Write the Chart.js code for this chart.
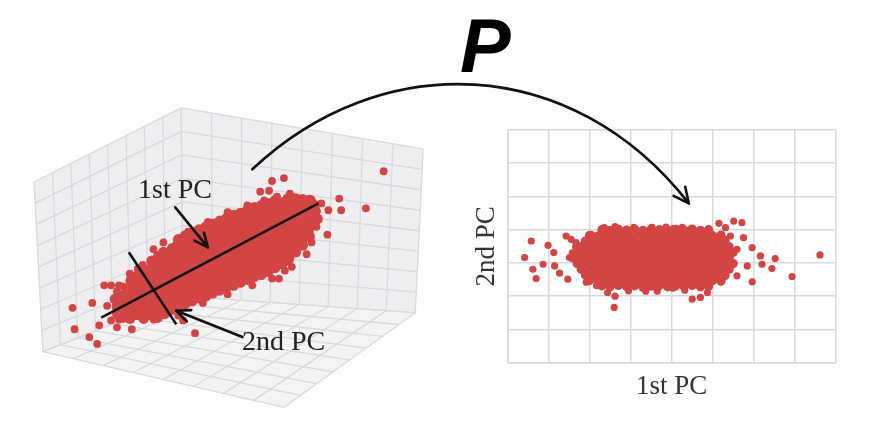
<!DOCTYPE html>
<html>
<head>
<meta charset="utf-8">
<script src="https://cdn.jsdelivr.net/npm/chart.js@4.4.1/dist/chart.umd.min.js"></script>
<style>
  body { margin: 0; background: #fff; }
  #wrap { position: relative; width: 874px; height: 440px; overflow: hidden; }
  .box { position: absolute; }
  .lbl { position: absolute; font-family: 'Liberation Serif', serif; font-size: 28px; line-height: 28px; color: #222; white-space: nowrap; }
  #pLabel { position: absolute; left: 460px; top: 8px; font-family: 'Liberation Sans', sans-serif; font-style: italic; font-weight: bold; font-size: 76px; line-height: 76px; color: #000; }
</style>
</head>
<body>
<div id="wrap">
  <div class="box" style="left:460px;top:118px;width:400px;height:300px"><canvas id="pcChart"></canvas></div>
  <div class="box" style="left:0;top:0;width:874px;height:440px"><canvas id="viewChart"></canvas></div>
  <div class="lbl" style="left:138px;top:175px">1st PC</div>
  <div class="lbl" style="left:242px;top:327px">2nd PC</div>
  <div id="pLabel">P</div>
</div>
<script>
// right panel: the same cloud in principal-component coordinates
const pcAxisTitles = ['1st PC', '2nd PC'];
const pcRangeX = [0, 8];
const pcRangeY = [0, 7];

// loose points around the edge of the projected cloud
const pcLoose = [
    [0.42,3.16],[0.58,3.66],[0.62,2.81],[0.70,2.53],[0.87,2.96],[0.99,3.53],[1.13,3.31],[1.15,2.91],
    [1.27,2.69],[1.43,3.81],[1.47,2.51],[1.55,3.71],[1.51,3.16],[1.67,3.61],[1.92,2.42],[2.17,2.32],
    [2.44,2.11],[2.60,1.66],[2.62,2.00],[3.37,2.15],[3.65,2.15],[4.03,2.24],[4.50,1.91],[4.70,1.96],
    [4.87,2.11],[5.08,2.60],[5.15,4.19],[5.31,4.06],[5.51,4.26],[5.71,4.21],[5.75,3.76],[5.96,3.46],
    [5.96,2.43],[6.16,3.21],[6.20,2.96],[6.44,2.83],[6.52,3.13],[6.93,2.59],[7.61,3.24],[5.59,2.61],
    [5.84,2.91],[5.59,3.41],[5.43,3.81],[2.04,3.86],[2.36,4.06],[3.08,4.07],[3.52,4.07],[4.04,4.03],
    [4.45,4.00],[1.58,3.30],[1.66,3.48],[2.62,4.09],[3.86,4.08],[4.26,4.07],[2.95,2.16],[4.32,2.18]
];

// dense core of the projected cloud
const pcCore = [
    [2.30,2.31],[2.50,2.28],[2.70,2.32],[2.90,2.29],[3.10,2.31],[3.30,2.27],[3.50,2.30],[3.70,2.32],
    [3.90,2.28],[4.10,2.31],[4.30,2.29],[4.50,2.32],[4.70,2.28],[4.90,2.30],
    [2.00,2.47],[2.20,2.49],[2.40,2.45],[2.60,2.48],[2.80,2.46],[3.00,2.49],[3.20,2.45],[3.40,2.48],
    [3.60,2.47],[3.80,2.45],[4.00,2.49],[4.20,2.46],[4.40,2.48],[4.60,2.45],[4.80,2.49],[5.00,2.47],[5.20,2.45],
    [1.90,2.64],[2.10,2.62],[2.30,2.66],[2.50,2.63],[2.70,2.65],[2.90,2.62],[3.10,2.66],[3.30,2.64],
    [3.50,2.62],[3.70,2.65],[3.90,2.63],[4.10,2.66],[4.30,2.62],[4.50,2.64],[4.70,2.66],[4.90,2.63],
    [5.10,2.65],[5.30,2.62],
    [1.80,2.81],[2.00,2.79],[2.20,2.83],[2.40,2.80],[2.60,2.82],[2.80,2.79],[3.00,2.83],[3.20,2.81],
    [3.40,2.79],[3.60,2.82],[3.80,2.80],[4.00,2.83],[4.20,2.79],[4.40,2.81],[4.60,2.83],[4.80,2.80],
    [5.00,2.82],[5.20,2.79],[5.40,2.81],
    [1.70,2.98],[1.90,3.00],[2.10,2.96],[2.30,2.99],[2.50,2.97],[2.70,3.00],[2.90,2.96],[3.10,2.98],
    [3.30,3.00],[3.50,2.97],[3.70,2.99],[3.90,2.96],[4.10,3.00],[4.30,2.98],[4.50,2.96],[4.70,2.99],
    [4.90,2.97],[5.10,3.00],[5.30,2.96],[5.50,2.98],
    [1.60,3.15],[1.80,3.13],[2.00,3.17],[2.20,3.14],[2.40,3.16],[2.60,3.13],[2.80,3.17],[3.00,3.15],
    [3.20,3.13],[3.40,3.16],[3.60,3.14],[3.80,3.17],[4.00,3.13],[4.20,3.15],[4.40,3.17],[4.60,3.14],
    [4.80,3.16],[5.00,3.13],[5.20,3.17],[5.40,3.15],
    [1.70,3.32],[1.90,3.34],[2.10,3.30],[2.30,3.33],[2.50,3.31],[2.70,3.34],[2.90,3.30],[3.10,3.32],
    [3.30,3.34],[3.50,3.31],[3.70,3.33],[3.90,3.30],[4.10,3.34],[4.30,3.32],[4.50,3.30],[4.70,3.33],
    [4.90,3.31],[5.10,3.34],[5.30,3.30],[5.50,3.32],
    [1.80,3.49],[2.00,3.47],[2.20,3.51],[2.40,3.48],[2.60,3.50],[2.80,3.47],[3.00,3.51],[3.20,3.49],
    [3.40,3.47],[3.60,3.50],[3.80,3.48],[4.00,3.51],[4.20,3.47],[4.40,3.49],[4.60,3.51],[4.80,3.48],
    [5.00,3.50],[5.20,3.47],[5.40,3.49],
    [1.90,3.66],[2.10,3.68],[2.30,3.64],[2.50,3.67],[2.70,3.65],[2.90,3.68],[3.10,3.64],[3.30,3.66],
    [3.50,3.68],[3.70,3.65],[3.90,3.67],[4.10,3.64],[4.30,3.68],[4.50,3.66],[4.70,3.64],[4.90,3.67],
    [5.10,3.65],[5.30,3.68],
    [2.00,3.83],[2.20,3.81],[2.40,3.85],[2.60,3.82],[2.80,3.84],[3.00,3.81],[3.20,3.85],[3.40,3.83],
    [3.60,3.81],[3.80,3.84],[4.00,3.82],[4.20,3.85],[4.40,3.81],[4.60,3.83],[4.80,3.85],[5.00,3.82],[5.20,3.84],
    [2.30,4.00],[2.50,3.98],[2.70,4.02],[2.90,3.99],[3.10,4.01],[3.30,3.98],[3.50,4.02],[3.70,4.00],
    [3.90,3.98],[4.10,4.01],[4.30,3.99],[4.50,4.02],[4.70,3.98],[4.90,4.00]
];

// left panel: the raw cloud as seen in the 3-D view (projected view units)
const viewRangeX = [0, 87.4];
const viewRangeY = [0, 44];

const viewLoose = [
    [6.8,13.0],[7.0,10.8],[8.5,10.0],[9.3,9.3],[8.8,13.5],[9.5,11.2],[10.0,15.3],[10.7,15.3],
    [11.5,15.3],[10.3,13.2],[10.7,11.7],[11.3,11.0],[11.5,11.8],[12.7,11.8],[12.8,10.8],[19.2,10.4],
    [18.0,11.7],[38.3,27.0],[36.5,23.2],[33.8,24.2],[34.0,23.0],[32.6,20.5],[32.7,23.0],[32.0,23.7],
    [28.2,26.3],[27.0,26.0],[25.8,24.9],[26.7,25.0],[28.8,24.7],[29.5,24.3],[30.8,24.2],[31.0,21.8],
    [30.8,20.8],[31.0,19.7],[28.3,16.8],[27.7,16.0],[28.7,17.7],
    [11.2,12.3],[11.3,14.7],[11.9,15.2],[12.6,16.5],[13.4,17.0],[13.9,17.4],[31.5,21.3],[31.5,23.6],
    // ragged upper and lower edges of the band
    [15.0,19.0],[16.0,19.7],[18.5,20.8],[20.5,21.8],[22.5,22.8],[24.5,23.5],[26.2,24.0],[27.5,24.4],
    [15.0,11.8],[17.5,12.2],[20.0,13.5],[22.5,14.4],[25.0,15.3],[27.0,16.0],[29.0,17.2],[30.5,18.5]
];

const viewCore = [
    [11.3,13.1],[11.1,13.9],
    [11.9,12.0],[12.0,12.8],[11.8,13.5],[12.0,14.3],
    [12.6,11.9],[12.5,12.7],[12.7,13.4],[12.6,14.2],[12.5,15.0],[12.7,15.8],
    [13.3,12.3],[13.4,13.1],[13.2,13.8],[13.4,14.6],[13.3,15.4],[13.2,16.2],
    [14.0,11.9],[13.9,12.7],[14.1,13.5],[14.0,14.3],[13.9,15.0],[14.1,15.8],[14.0,16.6],
    [14.7,12.3],[14.8,13.1],[14.6,13.9],[14.7,14.7],[14.8,15.4],[14.6,16.2],[14.7,17.0],[14.8,17.8],
    [15.4,12.0],[15.3,12.8],[15.5,13.5],[15.4,14.3],[15.3,15.1],[15.5,15.9],[15.4,16.7],[15.3,17.5],[15.5,18.3],
    [16.1,12.4],[16.2,13.2],[16.0,14.0],[16.1,14.8],[16.2,15.5],[16.0,16.3],[16.1,17.1],[16.2,17.9],[16.0,18.7],
    [16.8,12.8],[16.7,13.6],[16.9,14.4],[16.8,15.2],[16.7,16.0],[16.9,16.7],[16.8,17.5],[16.7,18.3],[16.9,19.1],
    [17.5,13.1],[17.6,13.9],[17.4,14.7],[17.5,15.5],[17.6,16.3],[17.4,17.1],[17.5,17.9],[17.6,18.7],[17.4,19.4],[17.5,20.0],
    [18.2,13.4],[18.1,14.2],[18.3,15.0],[18.2,15.8],[18.1,16.6],[18.3,17.4],[18.2,18.2],[18.1,19.0],[18.3,19.7],[18.2,20.4],
    [18.9,13.7],[19.0,14.5],[18.8,15.3],[18.9,16.1],[19.0,16.9],[18.8,17.7],[18.9,18.5],[19.0,19.2],[18.8,20.0],[18.9,20.7],
    [19.6,14.0],[19.5,14.8],[19.7,15.6],[19.6,16.4],[19.5,17.2],[19.7,18.0],[19.6,18.8],[19.5,19.6],[19.7,20.4],[19.6,21.0],
    [20.3,14.2],[20.4,15.0],[20.2,15.8],[20.3,16.6],[20.4,17.4],[20.2,18.2],[20.3,19.0],[20.4,19.8],[20.2,20.6],[20.3,21.3],
    [21.0,14.5],[20.9,15.3],[21.1,16.1],[21.0,16.9],[20.9,17.7],[21.1,18.5],[21.0,19.3],[20.9,20.1],[21.1,20.9],[21.0,21.6],
    [21.7,14.8],[21.8,15.6],[21.6,16.4],[21.7,17.2],[21.8,18.0],[21.6,18.8],[21.7,19.6],[21.8,20.4],[21.6,21.2],[21.7,21.9],
    [22.4,15.1],[22.3,15.9],[22.5,16.7],[22.4,17.5],[22.3,18.3],[22.5,19.1],[22.4,19.9],[22.3,20.7],[22.5,21.5],[22.4,22.2],
    [23.1,15.3],[23.2,16.1],[23.0,16.9],[23.1,17.7],[23.2,18.5],[23.0,19.3],[23.1,20.1],[23.2,20.9],[23.0,21.7],[23.1,22.5],
    [23.8,15.6],[23.7,16.4],[23.9,17.2],[23.8,18.0],[23.7,18.8],[23.9,19.6],[23.8,20.4],[23.7,21.2],[23.9,22.0],[23.8,22.7],
    [24.5,15.9],[24.6,16.7],[24.4,17.5],[24.5,18.3],[24.6,19.1],[24.4,19.9],[24.5,20.7],[24.6,21.5],[24.4,22.3],[24.5,23.0],
    [25.2,16.2],[25.1,17.0],[25.3,17.8],[25.2,18.6],[25.1,19.4],[25.3,20.2],[25.2,21.0],[25.1,21.8],[25.3,22.6],[25.2,23.3],
    [25.9,16.4],[26.0,17.2],[25.8,18.0],[25.9,18.8],[26.0,19.6],[25.8,20.4],[25.9,21.2],[26.0,22.0],[25.8,22.8],[25.9,23.5],
    [26.6,16.7],[26.5,17.5],[26.7,18.3],[26.6,19.1],[26.5,19.9],[26.7,20.7],[26.6,21.5],[26.5,22.3],[26.7,23.1],[26.6,23.7],
    [27.3,17.1],[27.4,17.9],[27.2,18.7],[27.3,19.5],[27.4,20.3],[27.2,21.1],[27.3,21.9],[27.4,22.7],[27.2,23.5],[27.3,24.0],
    [28.0,17.5],[27.9,18.3],[28.1,19.1],[28.0,19.9],[27.9,20.7],[28.1,21.5],[28.0,22.3],[27.9,23.1],[28.1,23.8],
    [28.7,18.0],[28.8,18.8],[28.6,19.6],[28.7,20.4],[28.8,21.2],[28.6,22.0],[28.7,22.8],[28.8,23.6],[28.6,24.2],
    [29.4,18.7],[29.3,19.5],[29.5,20.3],[29.4,21.1],[29.3,21.9],[29.5,22.7],[29.4,23.5],[29.3,24.2],
    [30.1,19.4],[30.2,20.2],[30.0,21.0],[30.1,21.8],[30.2,22.6],[30.0,23.4],[30.1,24.1],
    [30.8,20.3],[30.7,21.1],[30.9,21.9],[30.8,22.7],[30.7,23.5],[30.9,24.0],
    [31.6,22.1],[31.4,22.9]
];

// the two principal directions drawn through the cloud
const pc1Line = [[9.7,12.0],[31.7,23.7]];
const pc2Line = [[12.5,18.7],[17.3,11.3]];

const RED = '#d24545';
const GRID = '#d9d9dd';

const toXY = arr => arr.map(p => ({ x: p[0], y: p[1] }));

// ---------- right chart ----------
new Chart(document.getElementById('pcChart'), {
    type: 'scatter',
    data: {
        datasets: [
            { data: toXY(pcLoose), backgroundColor: RED, borderWidth: 0, pointRadius: 3.6 },
            { data: toXY(pcCore), backgroundColor: RED, borderWidth: 0, pointRadius: 4.6 }
        ]
    },
    options: {
        responsive: true,
        maintainAspectRatio: false,
        animation: false,
        events: [],
        layout: { padding: { left: 7, top: 12, right: 24, bottom: 11 } },
        plugins: { legend: { display: false }, tooltip: { enabled: false } },
        scales: {
            x: {
                min: pcRangeX[0], max: pcRangeX[1],
                ticks: { stepSize: 1, display: false },
                grid: { color: GRID, lineWidth: 1.5, drawTicks: false },
                border: { color: GRID, width: 1.5 },
                title: {
                    display: true, text: pcAxisTitles[0], color: '#333',
                    font: { family: 'Liberation Serif', size: 27 },
                    padding: { top: 8, bottom: 4 }
                }
            },
            y: {
                min: pcRangeY[0], max: pcRangeY[1],
                ticks: { stepSize: 1, display: false },
                grid: { color: GRID, lineWidth: 1.5, drawTicks: false },
                border: { color: GRID, width: 1.5 },
                title: {
                    display: true, text: pcAxisTitles[1], color: '#333',
                    font: { family: 'Liberation Serif', size: 27 },
                    padding: { top: 4, bottom: 4 }
                }
            }
        }
    }
});

// ---------- left chart (3-D view) ----------
// corners of the plotting box in view units
const boxCorners = {
    B: [18.0, 14.2], T: [17.8, 33.5], L: [3.8, 8.5], LT: [2.9, 25.9],
    R: [41.5, 12.5], RT: [42.3, 29.3], F: [28.2, 2.8]
};
const boxDiv = 8;

function px(chart, p) {
    return [chart.scales.x.getPixelForValue(p[0]), chart.scales.y.getPixelForValue(p[1])];
}

function lerpQuad(q, u, v) {
    // q = [p00, p10, p01, p11] in pixels
    const a = [q[0][0] + (q[1][0] - q[0][0]) * u, q[0][1] + (q[1][1] - q[0][1]) * u];
    const b = [q[2][0] + (q[3][0] - q[2][0]) * u, q[2][1] + (q[3][1] - q[2][1]) * u];
    return [a[0] + (b[0] - a[0]) * v, a[1] + (b[1] - a[1]) * v];
}

function drawFace(ctx, q, fill) {
    ctx.beginPath();
    ctx.moveTo(q[0][0], q[0][1]);
    ctx.lineTo(q[1][0], q[1][1]);
    ctx.lineTo(q[3][0], q[3][1]);
    ctx.lineTo(q[2][0], q[2][1]);
    ctx.closePath();
    ctx.fillStyle = fill;
    ctx.fill();
    ctx.strokeStyle = GRID;
    ctx.lineWidth = 1.3;
    for (let i = 0; i <= boxDiv; i++) {
        const t = i / boxDiv;
        let s = lerpQuad(q, t, 0), e = lerpQuad(q, t, 1);
        ctx.beginPath(); ctx.moveTo(s[0], s[1]); ctx.lineTo(e[0], e[1]); ctx.stroke();
        s = lerpQuad(q, 0, t); e = lerpQuad(q, 1, t);
        ctx.beginPath(); ctx.moveTo(s[0], s[1]); ctx.lineTo(e[0], e[1]); ctx.stroke();
    }
}

function arrowHead(ctx, from, to, len, spread) {
    const ang = Math.atan2(to[1] - from[1], to[0] - from[0]);
    ctx.beginPath();
    ctx.moveTo(to[0] - len * Math.cos(ang - spread), to[1] - len * Math.sin(ang - spread));
    ctx.lineTo(to[0], to[1]);
    ctx.lineTo(to[0] - len * Math.cos(ang + spread), to[1] - len * Math.sin(ang + spread));
    ctx.stroke();
}

function arrow(ctx, from, to) {
    ctx.beginPath();
    ctx.moveTo(from[0], from[1]);
    ctx.lineTo(to[0], to[1]);
    ctx.stroke();
    arrowHead(ctx, from, to, 15, 0.42);
}

const box3d = {
    id: 'box3d',
    beforeDatasetsDraw(chart) {
        const ctx = chart.ctx;
        const c = {};
        for (const k in boxCorners) c[k] = px(chart, boxCorners[k]);
        ctx.save();
        drawFace(ctx, [c.B, c.L, c.R, c.F], '#f4f4f5');
        drawFace(ctx, [c.B, c.L, c.T, c.LT], '#efeff1');
        drawFace(ctx, [c.B, c.R, c.T, c.RT], '#efeff1');
        ctx.restore();
    },
    afterDatasetsDraw(chart) {
        const ctx = chart.ctx;
        ctx.save();
        ctx.strokeStyle = '#111';
        ctx.lineCap = 'round';
        ctx.lineJoin = 'round';
        ctx.lineWidth = 2.6;
        // label arrows
        arrow(ctx, px(chart, [17.2, 23.3]), px(chart, [20.5, 19.2]));
        arrow(ctx, px(chart, [24.0, 10.0]), px(chart, [17.3, 12.7]));
        // projection arc P
        const p0 = px(chart, [25.0, 27.2]), p1 = px(chart, [38.0, 39.6]);
        const p2 = px(chart, [57.3, 39.1]), p3 = px(chart, [69.2, 23.7]);
        ctx.beginPath();
        ctx.moveTo(p0[0], p0[1]);
        ctx.bezierCurveTo(p1[0], p1[1], p2[0], p2[1], p3[0], p3[1]);
        ctx.stroke();
        arrowHead(ctx, p2, p3, 17, 0.45);
        ctx.restore();
    }
};

new Chart(document.getElementById('viewChart'), {
    type: 'scatter',
    data: {
        datasets: [{
            data: toXY(viewLoose),
            backgroundColor: RED,
            borderWidth: 0,
            pointRadius: 3.9,
            order: 3
        }, {
            data: toXY(viewCore),
            backgroundColor: RED,
            borderWidth: 0,
            pointRadius: 5.4,
            order: 2
        }, {
            type: 'line',
            data: toXY(pc1Line),
            borderColor: '#111',
            borderWidth: 2.6,
            pointRadius: 0,
            order: 1
        }, {
            type: 'line',
            data: toXY(pc2Line),
            borderColor: '#111',
            borderWidth: 2.6,
            pointRadius: 0,
            order: 1
        }]
    },
    options: {
        responsive: true,
        maintainAspectRatio: false,
        animation: false,
        events: [],
        layout: { padding: 0 },
        plugins: { legend: { display: false }, tooltip: { enabled: false } },
        scales: {
            x: { type: 'linear', min: viewRangeX[0], max: viewRangeX[1], display: false },
            y: { type: 'linear', min: viewRangeY[0], max: viewRangeY[1], display: false }
        }
    },
    plugins: [box3d]
});
</script>
</body>
</html>
